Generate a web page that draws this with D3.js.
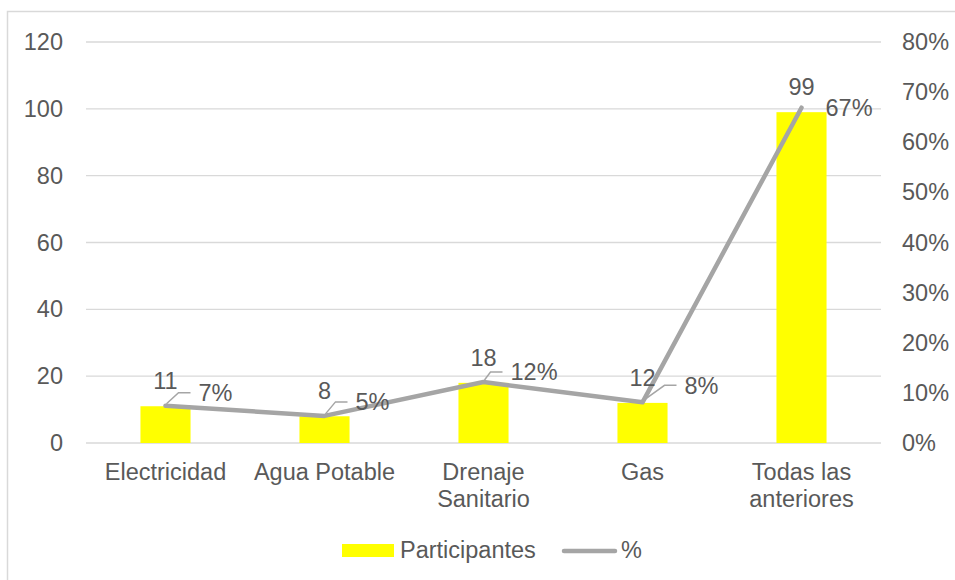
<!DOCTYPE html>
<html>
<head>
<meta charset="utf-8">
<script src="https://cdn.jsdelivr.net/npm/d3@7"></script>
<style>
  html, body { margin: 0; padding: 0; background: #fff; }
  svg { display: block; font-family: "Liberation Sans", Arial, sans-serif; }
</style>
</head>
<body>
<svg id="chart" width="955" height="580"></svg>
<script>
// Servicios: número de participantes y porcentaje del total
const categories = ["Electricidad", "Agua Potable", "Drenaje Sanitario", "Gas", "Todas las anteriores"];
const participantes = [11, 8, 18, 12, 99];
const porcentaje = [0.0743, 0.0541, 0.1216, 0.0811, 0.6689];
const leftTicks = [0, 20, 40, 60, 80, 100, 120];
const rightTicks = [0, 0.1, 0.2, 0.3, 0.4, 0.5, 0.6, 0.7, 0.8];

// Hand-placed offsets of the percentage labels (dx, dy from the point)
const pctLabelNudge = [[33, -13], [31, -14], [27, -10], [42, -17], [24, 0]];

const W = 955, H = 580;
const plot = { left: 86, right: 881, top: 42, bottom: 443 };
const textColor = "#595959";
const gridColor = "#D9D9D9";
const barColor = "#FFFF00";
const lineColor = "#A5A5A5";
const fontSize = 23.5;

const svg = d3.select("#chart");

// Chart frame
svg.append("rect")
  .attr("x", 7.5).attr("y", 11.5)
  .attr("width", W + 20).attr("height", H + 20)
  .attr("fill", "#fff")
  .attr("stroke", gridColor).attr("stroke-width", 1.5);

const x = d3.scaleBand().domain(categories).range([plot.left, plot.right]).padding(0);
const yL = d3.scaleLinear().domain([0, 120]).range([plot.bottom, plot.top]);
const yR = d3.scaleLinear().domain([0, 0.8]).range([plot.bottom, plot.top]);

// Gridlines
svg.append("g").selectAll("line").data(leftTicks).join("line")
  .attr("x1", plot.left).attr("x2", plot.right)
  .attr("y1", d => yL(d)).attr("y2", d => yL(d))
  .attr("stroke", gridColor).attr("stroke-width", 1.3);

// Left axis
const axisL = svg.append("g")
  .attr("transform", `translate(${plot.left},0)`)
  .call(d3.axisLeft(yL).tickValues(leftTicks).tickSize(0).tickPadding(23).tickFormat(d3.format("d")));
axisL.select(".domain").remove();
axisL.selectAll("text")
  .attr("fill", textColor).style("font-size", fontSize + "px")
  .style("font-family", "'Liberation Sans', Arial, sans-serif");

// Right axis
const axisR = svg.append("g")
  .attr("transform", `translate(${plot.right},0)`)
  .call(d3.axisRight(yR).tickValues(rightTicks).tickSize(0).tickPadding(21).tickFormat(d3.format(".0%")));
axisR.select(".domain").remove();
axisR.selectAll("text")
  .attr("fill", textColor).style("font-size", fontSize + "px")
  .style("font-family", "'Liberation Sans', Arial, sans-serif");

// Bars
const barW = x.bandwidth() * 0.315;
svg.append("g").selectAll("rect").data(participantes).join("rect")
  .attr("x", (d, i) => x(categories[i]) + x.bandwidth() / 2 - barW / 2)
  .attr("y", d => yL(d))
  .attr("width", barW)
  .attr("height", d => yL(0) - yL(d))
  .attr("fill", barColor);

// Category labels, wrapped to the band width
const catG = svg.append("g");
categories.forEach((c, i) => {
  const cx = x(c) + x.bandwidth() / 2;
  const t = catG.append("text")
    .attr("x", cx).attr("y", 480)
    .attr("text-anchor", "middle")
    .attr("fill", textColor)
    .style("font-size", fontSize + "px");
  const words = c.split(" ");
  let line = [];
  let tspan = t.append("tspan").attr("x", cx).attr("dy", 0);
  words.forEach(w => {
    line.push(w);
    tspan.text(line.join(" "));
    if (tspan.node().getComputedTextLength() > x.bandwidth() - 6 && line.length > 1) {
      line.pop();
      tspan.text(line.join(" "));
      line = [w];
      tspan = t.append("tspan").attr("x", cx).attr("dy", 27).text(w);
    }
  });
});

// Line series (percentage)
const pts = porcentaje.map((p, i) => [x(categories[i]) + x.bandwidth() / 2, yR(p)]);

// Leader lines for the shifted percentage labels
const leaderG = svg.append("g");
pts.forEach((p, i) => {
  const [dx, dy] = pctLabelNudge[i];
  if (Math.hypot(dx, dy) < 28) return;
  const lx = p[0] + dx, ly = p[1] + dy;
  leaderG.append("polyline")
    .attr("points", [[p[0] + 1, p[1] - 2], [lx - 20, ly], [lx - 8, ly]].map(q => q.join(",")).join(" "))
    .attr("fill", "none").attr("stroke", lineColor).attr("stroke-width", 1.5);
});

svg.append("path")
  .datum(pts)
  .attr("d", d3.line())
  .attr("fill", "none")
  .attr("stroke", lineColor)
  .attr("stroke-width", 4.5)
  .attr("stroke-linejoin", "round")
  .attr("stroke-linecap", "round");

// Value labels on bars
svg.append("g").selectAll("text").data(participantes).join("text")
  .attr("x", (d, i) => x(categories[i]) + x.bandwidth() / 2)
  .attr("y", d => yL(d) - 17)
  .attr("text-anchor", "middle")
  .attr("fill", textColor)
  .style("font-size", fontSize + "px")
  .text(d => d);

// Percentage labels
svg.append("g").selectAll("text").data(porcentaje).join("text")
  .attr("x", (d, i) => pts[i][0] + pctLabelNudge[i][0])
  .attr("y", (d, i) => pts[i][1] + pctLabelNudge[i][1])
  .attr("dy", "0.35em")
  .attr("fill", textColor)
  .style("font-size", fontSize + "px")
  .text(d => d3.format(".0%")(d));

// Legend
const lg = svg.append("g");
lg.append("rect").attr("x", 342).attr("y", 544).attr("width", 52).attr("height", 13).attr("fill", barColor);
lg.append("text").attr("x", 400).attr("y", 558).attr("fill", textColor)
  .style("font-size", fontSize + "px").text("Participantes");
lg.append("line").attr("x1", 564).attr("x2", 615).attr("y1", 551).attr("y2", 551)
  .attr("stroke", lineColor).attr("stroke-width", 4.5).attr("stroke-linecap", "round");
lg.append("text").attr("x", 621).attr("y", 558).attr("fill", textColor)
  .style("font-size", fontSize + "px").text("%");
</script>
</body>
</html>
